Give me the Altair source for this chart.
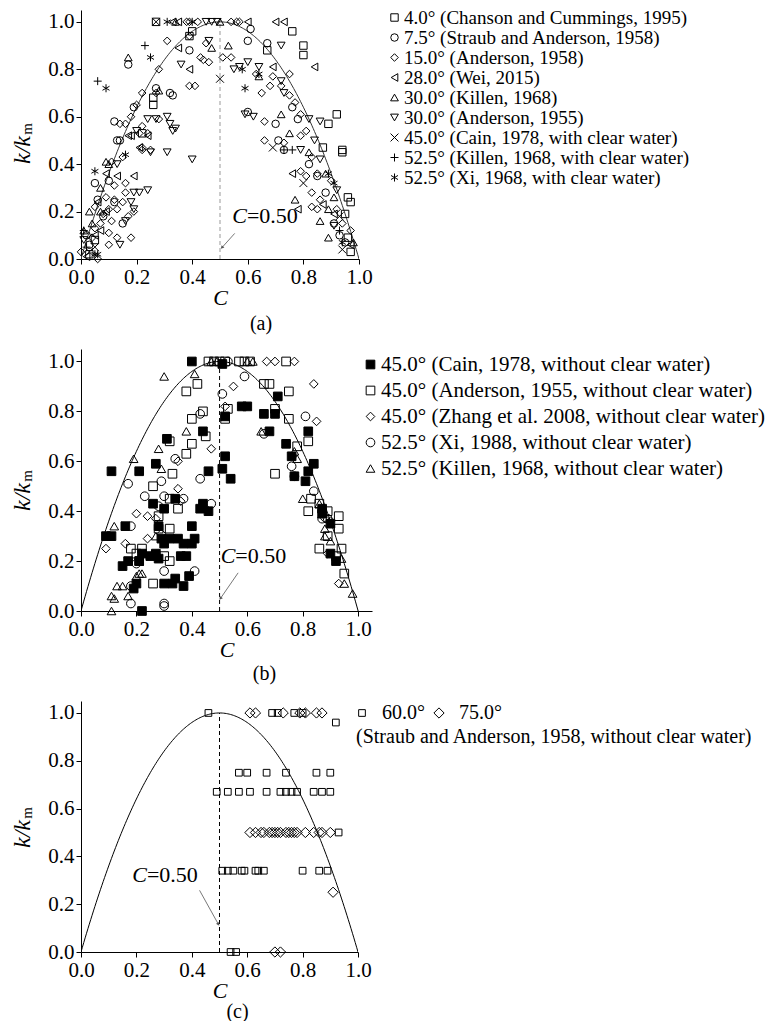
import altair as alt
import pandas as pd

FONT = "Liberation Serif"
TICKS = [0.0, 0.2, 0.4, 0.6, 0.8, 1.0]

CROSS = "M-1,-1L1,1M-1,1L1,-1"
PLUS = "M-1,0L1,0M0,-1L0,1"
AST = "M0,-1L0,1M-0.87,-0.5L0.87,0.5M-0.87,0.5L0.87,-0.5"

# ---------------- panel (a) ----------------
a_labels = [
    "4.0° (Chanson and Cummings, 1995)",
    "7.5° (Straub and Anderson, 1958)",
    "15.0° (Anderson, 1958)",
    "28.0° (Wei, 2015)",
    "30.0° (Killen, 1968)",
    "30.0° (Anderson, 1955)",
    "45.0° (Cain, 1978, with clear water)",
    "52.5° (Killen, 1968, with clear water)",
    "52.5° (Xi, 1968, with clear water)",
]
a_sq = [(0.27, 1.00), (0.40, 0.96), (0.39, 0.94), (0.76, 0.96), (0.80, 0.90), (0.80, 0.86),
        (0.67, 0.88), (0.89, 0.57), (0.92, 0.61), (0.87, 0.47), (0.94, 0.46), (0.94, 0.45),
        (0.96, 0.26), (0.97, 0.24), (0.95, 0.19), (0.96, 0.09), (0.26, 0.68), (0.26, 0.65),
        (0.22, 0.53), (0.03, 0.02), (0.05, 0.08), (0.97, 0.03)]
a_ci = [(0.61, 0.97), (0.67, 0.91), (0.60, 0.92), (0.60, 0.62), (0.76, 0.64), (0.78, 0.59),
        (0.70, 0.57), (0.71, 0.50), (0.73, 0.46), (0.82, 0.40), (0.95, 0.07), (0.13, 0.50),
        (0.05, 0.32), (0.06, 0.25), (0.15, 0.15), (0.03, 0.06), (0.17, 0.82), (0.39, 0.88),
        (0.27, 0.72), (0.32, 0.70), (0.33, 0.69), (0.19, 0.64), (0.12, 0.58), (0.14, 0.50),
        (0.10, 0.33), (0.08, 0.18), (0.12, 0.24), (0.02, 0.10), (0.85, 0.35), (0.88, 0.28),
        (0.91, 0.15), (0.93, 0.10)]
a_di = [(0.38, 1.00), (0.39, 1.00), (0.42, 1.00), (0.54, 1.00), (0.56, 1.00), (0.57, 1.00),
        (0.31, 0.92), (0.39, 0.94), (0.45, 0.91), (0.44, 0.84), (0.46, 0.83), (0.43, 0.85),
        (0.51, 0.85), (0.54, 0.85), (0.63, 0.78), (0.69, 0.77), (0.68, 0.73), (0.65, 0.70),
        (0.75, 0.78), (0.72, 0.73), (0.75, 0.69), (0.77, 0.66), (0.79, 0.61), (0.66, 0.58),
        (0.81, 0.54), (0.66, 0.50), (0.73, 0.49), (0.79, 0.52), (0.83, 0.43), (0.79, 0.37),
        (0.81, 0.35), (0.85, 0.36), (0.90, 0.33), (0.83, 0.28), (0.86, 0.25), (0.83, 0.22),
        (0.85, 0.21), (0.94, 0.15), (0.97, 0.12), (0.92, 0.21), (0.39, 0.73), (0.41, 0.73),
        (0.28, 0.80), (0.27, 0.70), (0.22, 0.70), (0.20, 0.65), (0.18, 0.60), (0.28, 0.59),
        (0.14, 0.57), (0.16, 0.57), (0.21, 0.53), (0.22, 0.56), (0.22, 0.46), (0.24, 0.53),
        (0.22, 0.47), (0.25, 0.46), (0.15, 0.43), (0.11, 0.41), (0.16, 0.32), (0.12, 0.31),
        (0.16, 0.28), (0.09, 0.26), (0.05, 0.22), (0.12, 0.25), (0.15, 0.24), (0.19, 0.20),
        (0.10, 0.21), (0.08, 0.19), (0.13, 0.21), (0.17, 0.18), (0.05, 0.13), (0.10, 0.11),
        (0.13, 0.09), (0.18, 0.09), (0.10, 0.06), (0.00, 0.03), (0.06, 0.00), (0.07, 0.15),
        (0.04, 0.09), (0.11, 0.16)]
a_tl = [(0.33, 1.00), (0.35, 1.00), (0.60, 1.00), (0.70, 1.00), (0.73, 1.00), (0.84, 0.81),
        (0.69, 0.81), (0.39, 0.80), (0.35, 0.89), (0.18, 0.52), (0.24, 0.52), (0.21, 0.47),
        (0.17, 0.52), (0.09, 0.36), (0.13, 0.35), (0.19, 0.35), (0.07, 0.12), (0.02, 0.01),
        (0.76, 0.36), (0.87, 0.23), (0.91, 0.19), (0.97, 0.06), (0.78, 0.21), (0.05, 0.10),
        (0.09, 0.20), (0.06, 0.24)]
a_tu = [(0.34, 1.00), (0.50, 1.00), (0.17, 0.85), (0.53, 0.90), (0.47, 0.89), (0.64, 0.77),
        (0.28, 0.71), (0.72, 0.61), (0.75, 0.53), (0.82, 0.45), (0.88, 0.36), (0.77, 0.25),
        (0.91, 0.26), (0.89, 0.21), (0.86, 0.16), (0.89, 0.09), (0.98, 0.07), (0.09, 0.41),
        (0.07, 0.30), (0.03, 0.20), (0.01, 0.12), (0.10, 0.40), (0.07, 0.20), (0.04, 0.15)]
a_td = [(0.45, 1.00), (0.47, 1.00), (0.49, 1.00), (0.46, 0.92), (0.72, 0.90), (0.36, 0.82),
        (0.55, 0.80), (0.57, 0.81), (0.60, 0.83), (0.64, 0.81), (0.72, 0.75), (0.73, 0.70),
        (0.82, 0.59), (0.86, 0.58), (0.59, 0.61), (0.62, 0.60), (0.79, 0.46), (0.84, 0.50),
        (0.86, 0.42), (0.92, 0.29), (0.91, 0.14), (0.24, 0.59), (0.27, 0.59), (0.31, 0.60),
        (0.32, 0.57), (0.34, 0.55), (0.20, 0.54), (0.33, 0.54), (0.25, 0.45), (0.31, 0.45),
        (0.40, 0.42), (0.13, 0.40), (0.19, 0.28), (0.21, 0.28), (0.24, 0.29), (0.18, 0.24),
        (0.19, 0.21), (0.16, 0.16), (0.14, 0.06), (0.01, 0.08)]
a_x = [(0.27, 1.00), (0.50, 0.76), (0.69, 0.47), (0.80, 0.32), (0.93, 0.18), (0.94, 0.04),
       (0.03, 0.03), (0.05, 0.05)]
a_plus = [(0.23, 0.90), (0.06, 0.75), (0.73, 0.46), (0.76, 0.46), (0.93, 0.12), (0.01, 0.12),
          (0.02, 0.05)]
a_ast = [(0.31, 1.00), (0.40, 1.00), (0.25, 0.85), (0.09, 0.72), (0.58, 0.80), (0.59, 0.72),
         (0.16, 0.44), (0.05, 0.37), (0.05, 0.02), (0.89, 0.36), (0.91, 0.32), (0.94, 0.07),
         (0.06, 0.02), (0.64, 0.78)]
a_series = [a_sq, a_ci, a_di, a_tl, a_tu, a_td, a_x, a_plus, a_ast]
a_shapes = ["square", "circle", "diamond", "triangle-left", "triangle-up", "triangle-down", CROSS, PLUS, AST]
a_fills = ["transparent"] * 9
a_sizes = [55, 65, 85, 72, 72, 72, 55, 70, 85]

# ---------------- panel (b) ----------------
b_labels = [
    "45.0° (Cain, 1978, without clear water)",
    "45.0° (Anderson, 1955, without clear water)",
    "45.0° (Zhang et al. 2008, without clear water)",
    "52.5° (Xi, 1988, without clear water)",
    "52.5° (Killen, 1968, without clear water)",
]
b_fsq = [(0.09, 0.30), (0.11, 0.30), (0.11, 0.56), (0.16, 0.34), (0.15, 0.18), (0.17, 0.20),
         (0.19, 0.09), (0.20, 0.11), (0.21, 0.56), (0.21, 0.20), (0.22, 0.23), (0.22, 0.00),
         (0.25, 0.22), (0.26, 0.43), (0.27, 0.59), (0.27, 0.23), (0.28, 0.34), (0.28, 0.21),
         (0.29, 0.29), (0.30, 0.27), (0.30, 0.41), (0.31, 0.69), (0.32, 0.29), (0.30, 0.11),
         (0.33, 0.11), (0.34, 0.13), (0.34, 0.45), (0.35, 0.29), (0.36, 0.22), (0.37, 0.27),
         (0.38, 0.22), (0.37, 0.10), (0.39, 0.14), (0.40, 0.27), (0.40, 0.34), (0.41, 0.29),
         (0.43, 0.41), (0.44, 0.43), (0.44, 0.72), (0.46, 0.56), (0.46, 0.40), (0.40, 1.00),
         (0.51, 0.99), (0.51, 0.57), (0.52, 0.62), (0.54, 0.53), (0.52, 0.78), (0.58, 0.82),
         (0.60, 0.82), (0.66, 0.79), (0.70, 0.79), (0.71, 0.86), (0.68, 0.72), (0.74, 0.67),
         (0.76, 0.62), (0.77, 0.54), (0.81, 0.52), (0.82, 0.56), (0.82, 0.72), (0.84, 0.59),
         (0.87, 0.41), (0.87, 0.39), (0.90, 0.23), (0.92, 0.20), (0.90, 0.35)]
b_sq = [(0.46, 1.00), (0.48, 1.00), (0.50, 1.00), (0.52, 1.00), (0.57, 1.00), (0.59, 1.00),
        (0.61, 1.00), (0.74, 1.00), (0.42, 0.91), (0.38, 0.88), (0.40, 0.77), (0.44, 0.80),
        (0.45, 0.70), (0.40, 0.67), (0.38, 0.63), (0.32, 0.68), (0.33, 0.55), (0.26, 0.50),
        (0.35, 0.41), (0.32, 0.45), (0.28, 0.38), (0.28, 0.33), (0.32, 0.33), (0.30, 0.22),
        (0.32, 0.20), (0.22, 0.25), (0.20, 0.23), (0.18, 0.25), (0.21, 0.20), (0.26, 0.11),
        (0.66, 0.91), (0.68, 0.91), (0.53, 0.81), (0.52, 0.77), (0.70, 0.81), (0.75, 0.77),
        (0.75, 0.88), (0.70, 0.55), (0.78, 0.66), (0.82, 0.68), (0.82, 0.40), (0.83, 0.45),
        (0.86, 0.43), (0.89, 0.40), (0.86, 0.25), (0.89, 0.30), (0.93, 0.38), (0.93, 0.33),
        (0.94, 0.25), (0.92, 0.22), (0.95, 0.15)]
b_di = [(0.09, 0.25), (0.16, 0.27), (0.20, 0.39), (0.24, 0.38), (0.24, 0.29), (0.27, 0.37),
        (0.29, 0.31), (0.35, 0.49), (0.35, 0.60), (0.36, 0.44), (0.47, 0.65), (0.55, 0.90),
        (0.52, 0.82), (0.67, 1.00), (0.70, 1.00), (0.77, 1.00), (0.84, 0.91), (0.85, 0.76),
        (0.90, 0.36), (0.89, 0.23), (0.93, 0.11), (0.88, 0.37)]
b_ci = [(0.17, 0.51), (0.18, 0.34), (0.18, 0.10), (0.18, 0.03), (0.20, 0.19), (0.23, 0.46),
        (0.28, 0.42), (0.29, 0.52), (0.30, 0.46), (0.30, 0.16), (0.30, 0.03), (0.30, 0.02),
        (0.34, 0.61), (0.37, 0.45), (0.41, 0.16), (0.43, 0.79), (0.43, 0.53), (0.47, 0.43),
        (0.51, 0.87), (0.53, 1.00), (0.59, 0.94), (0.66, 0.71), (0.76, 0.58), (0.77, 0.54),
        (0.81, 0.78), (0.84, 0.48), (0.87, 0.37), (0.89, 0.37)]
b_tu = [(0.11, 0.00), (0.11, 0.06), (0.12, 0.05), (0.13, 0.10), (0.12, 0.34), (0.15, 0.10),
        (0.17, 0.06), (0.17, 0.20), (0.19, 0.61), (0.20, 0.14), (0.21, 0.15), (0.22, 0.15),
        (0.28, 0.65), (0.29, 0.57), (0.30, 0.94), (0.27, 0.30), (0.38, 0.72), (0.41, 0.95),
        (0.47, 1.00), (0.49, 1.00), (0.60, 1.00), (0.62, 1.00), (0.65, 0.72), (0.78, 0.61),
        (0.77, 0.64), (0.80, 0.45), (0.86, 0.43), (0.88, 0.33), (0.88, 0.30), (0.90, 0.28),
        (0.94, 0.21), (0.95, 0.11), (0.98, 0.07)]
b_series = [b_fsq, b_sq, b_di, b_ci, b_tu]
b_shapes = ["square", "square", "diamond", "circle", "triangle-up"]
b_fills = ["black", "transparent", "transparent", "transparent", "transparent"]
b_sizes = [75, 75, 115, 80, 105]

# ---------------- panel (c) ----------------
c_labels = ["60.0°", "75.0°"]
c_sq = [(0.46, 1.00), (0.69, 1.00), (0.71, 1.00), (0.77, 1.00), (0.80, 1.00), (0.92, 0.96),
        (0.57, 0.75), (0.60, 0.75), (0.67, 0.75), (0.74, 0.75), (0.85, 0.75), (0.90, 0.75),
        (0.49, 0.67), (0.53, 0.67), (0.57, 0.67), (0.61, 0.67), (0.67, 0.67), (0.72, 0.67),
        (0.74, 0.67), (0.76, 0.67), (0.78, 0.67), (0.84, 0.67), (0.87, 0.67), (0.90, 0.67),
        (0.93, 0.50), (0.51, 0.34), (0.53, 0.34), (0.55, 0.34), (0.58, 0.34), (0.59, 0.34),
        (0.63, 0.34), (0.64, 0.34), (0.66, 0.34), (0.80, 0.34), (0.86, 0.34), (0.89, 0.34),
        (0.54, 0.00), (0.56, 0.00)]
c_di = [(0.61, 1.00), (0.63, 1.00), (0.73, 1.00), (0.79, 1.00), (0.81, 1.00), (0.85, 1.00),
        (0.87, 1.00), (0.61, 0.50), (0.63, 0.50), (0.65, 0.50), (0.66, 0.50), (0.68, 0.50),
        (0.69, 0.50), (0.70, 0.50), (0.71, 0.50), (0.72, 0.50), (0.74, 0.50), (0.75, 0.50),
        (0.76, 0.50), (0.77, 0.50), (0.78, 0.50), (0.81, 0.50), (0.84, 0.50), (0.86, 0.50),
        (0.87, 0.50), (0.90, 0.50), (0.91, 0.25), (0.70, 0.00), (0.72, 0.00)]
c_series = [c_sq, c_di]
c_shapes = ["square", "diamond"]
c_fills = ["transparent", "transparent"]
c_sizes = [45, 105]
c_source = "(Straub and Anderson, 1958, without clear water)"

CURVE_PEAK = 1.0  # k/km = 4 C (1 - C) * peak


def to_df(labels, series):
    rows = []
    for lab, pts in zip(labels, series):
        for c, k in pts:
            rows.append({"C": c, "k": k, "series": lab})
    return pd.DataFrame(rows)


def panel(labels, series, shapes, fills, sizes, xmax, w, h, legend, curve_color,
          dash_color, note_c, note_k, arrow, arrow_angle, yt_k, caption, cap_dx, cap_off,
          extra=None):
    df = to_df(labels, series)
    xs = alt.Scale(domain=[0, xmax], nice=False, zero=True)
    ys = alt.Scale(domain=[0, 1.05], nice=False, zero=True)
    xax = alt.Axis(values=TICKS, format=".1f", title="C", titleFontStyle="italic",
                   labelFlush=False, labelOverlap=False)
    yax = alt.Axis(values=TICKS, format=".1f", title=None, labelFlush=False, labelOverlap=False)

    curve = alt.Chart(alt.sequence(0, 1.0001, 0.005, as_="C")).transform_calculate(
        k=f"{CURVE_PEAK}*4*datum.C*(1-datum.C)"
    ).mark_line(color=curve_color, strokeWidth=1, clip=True).encode(
        x=alt.X("C:Q", scale=xs, axis=xax), y=alt.Y("k:Q", scale=ys, axis=yax))

    dash = alt.Chart(pd.DataFrame({"C": [0.5], "k0": [0.0], "k1": [1.0]})).mark_rule(
        color=dash_color, strokeDash=[4, 3], strokeWidth=1).encode(
        x=alt.X("C:Q", scale=xs), y=alt.Y("k0:Q", scale=ys), y2="k1:Q")

    # same legend object on shape, fill, stroke and size so that they merge into one legend
    pts = alt.Chart(df).mark_point(filled=False, strokeWidth=1, opacity=1).encode(
        x=alt.X("C:Q", scale=xs),
        y=alt.Y("k:Q", scale=ys),
        shape=alt.Shape("series:N", scale=alt.Scale(domain=labels, range=shapes), legend=legend),
        fill=alt.Fill("series:N", scale=alt.Scale(domain=labels, range=fills), legend=legend),
        stroke=alt.Stroke("series:N", scale=alt.Scale(domain=labels, range=["black"] * len(labels)),
                          legend=legend),
        size=alt.Size("series:N", scale=alt.Scale(domain=labels, range=sizes), legend=legend),
    )

    adf = pd.DataFrame({"C": [arrow[0]], "k": [arrow[1]], "C2": [arrow[2]], "k2": [arrow[3]]})
    arr = alt.Chart(adf).mark_rule(color="#555555", strokeWidth=0.8).encode(
        x=alt.X("C:Q", scale=xs), y=alt.Y("k:Q", scale=ys), x2="C2:Q", y2="k2:Q")
    head = alt.Chart(adf).mark_point(shape="triangle-up", filled=True, color="#555555",
                                     size=14, angle=arrow_angle, opacity=1).encode(
        x=alt.X("C2:Q", scale=xs), y=alt.Y("k2:Q", scale=ys))

    ndf = pd.DataFrame({"C": [note_c], "k": [note_k], "a": ["C"], "b": ["=0.50"]})
    n1 = alt.Chart(ndf).mark_text(font=FONT, fontSize=22, fontStyle="italic", align="right",
                                  baseline="middle", color="black").encode(
        x=alt.X("C:Q", scale=xs), y=alt.Y("k:Q", scale=ys), text="a:N")
    n2 = alt.Chart(ndf).mark_text(font=FONT, fontSize=22, align="left", baseline="middle",
                                  color="black").encode(
        x=alt.X("C:Q", scale=xs), y=alt.Y("k:Q", scale=ys), text="b:N")

    t1 = alt.Chart(pd.DataFrame({"t": ["k/k"]})).mark_text(
        font=FONT, fontSize=24, fontStyle="italic", angle=270, align="center",
        baseline="middle", color="black").encode(text="t:N", x=alt.value(-58), y=alt.value(yt_k))
    t2 = alt.Chart(pd.DataFrame({"t": ["m"]})).mark_text(
        font=FONT, fontSize=15, angle=270, align="center", baseline="middle",
        color="black").encode(text="t:N", x=alt.value(-54), y=alt.value(yt_k - 21))

    layers = [curve, dash, pts, arr, head, n1, n2, t1, t2]
    if extra is not None:
        layers.append(extra)
    return alt.layer(*layers).properties(
        width=w, height=h,
        title=alt.TitleParams(caption, orient="bottom", anchor="middle", frame="group",
                              dx=cap_dx, offset=cap_off, font=FONT, fontSize=20,
                              fontWeight="normal", color="black"))


def leg(x, y, fs, rowpad, loff, **kw):
    return alt.Legend(title=None, orient="none", legendX=x, legendY=y, labelFont=FONT,
                      labelFontSize=fs, labelColor="black",
                      symbolStrokeColor="black", symbolStrokeWidth=1, rowPadding=rowpad,
                      labelOffset=loff, labelLimit=700, **kw)


pa = panel(a_labels, a_series, a_shapes, a_fills, a_sizes, 1.0, 278, 249,
           leg(304, -2, 19, 0, 0), "#333333", "#999999",
           0.597, 0.18, (0.553, 0.108, 0.507, 0.048), 221, 140, "(a)", 41, 6)

pb = panel(b_labels, b_series, b_shapes, b_fills, b_sizes, 1.05, 291, 262,
           leg(279, 5, 21, 4, 0), "black", "black",
           0.557, 0.22, (0.567, 0.153, 0.503, 0.05), 215, 148, "(b)", 38, 4)

c_extra = alt.Chart(pd.DataFrame({"t": [c_source]})).mark_text(
    font=FONT, fontSize=20, align="left", baseline="middle", color="black").encode(
    text="t:N", x=alt.value(275), y=alt.value(36))

pc = panel(c_labels, c_series, c_shapes, c_fills, c_sizes, 1.0, 277, 251,
           leg(271, 2, 20, 0, 10, direction="horizontal", columns=2, columnPadding=4),
           "black", "black",
           0.238, 0.321, (0.428, 0.258, 0.496, 0.116), 151, 133, "(c)", 18, 1,
           extra=c_extra)

chart = alt.vconcat(pa, pb, pc, spacing=90, bounds="flush").resolve_scale(
    shape="independent", fill="independent", size="independent", stroke="independent",
    x="independent", y="independent"
).resolve_legend(shape="independent", fill="independent", size="independent",
                 stroke="independent").properties(
    padding={"left": 3, "top": 0, "right": 0, "bottom": 0}
).configure(font=FONT, background="white").configure_view(stroke=None).configure_axis(
    domainColor="black", domainWidth=1, tickColor="black", tickSize=5, tickWidth=1,
    labelFont=FONT, labelFontSize=21, labelColor="black", labelPadding=2,
    titleFont=FONT, titleFontSize=22, titleColor="black", titleFontWeight="normal",
    titlePadding=0, grid=False,
)

chart.save("out.html", embed_options={"renderer": "svg", "actions": False})
